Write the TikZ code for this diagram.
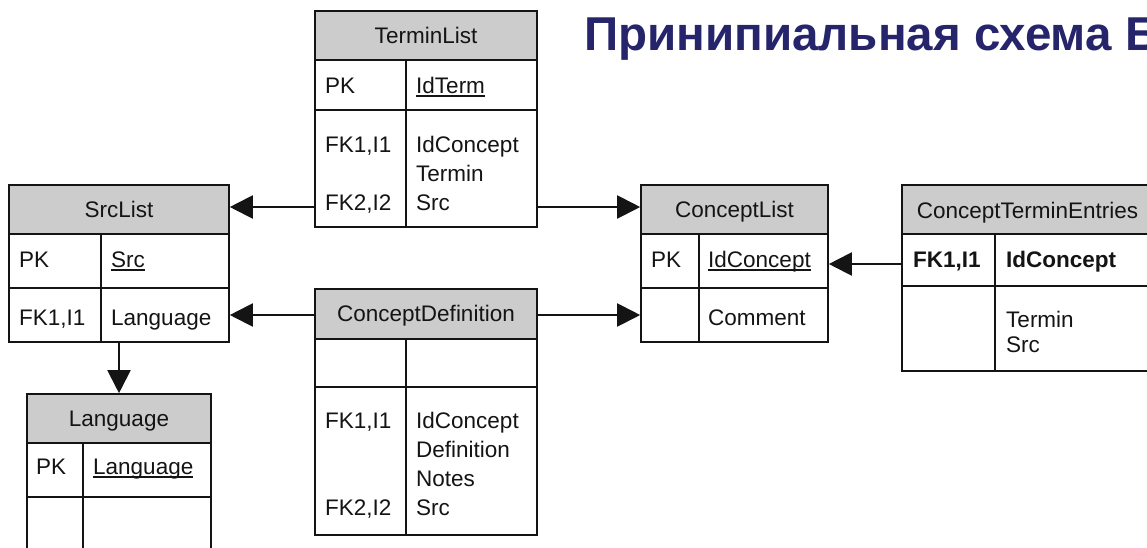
\documentclass[tikz,border=0pt]{standalone}
\usepackage{fontspec}
\setmainfont{Liberation Sans}
\usetikzlibrary{arrows.meta}
\definecolor{navy}{RGB}{38,36,107}
\definecolor{hdrgray}{RGB}{204,204,204}
\definecolor{ink}{RGB}{20,20,20}
\newcommand\erfont{\fontsize{22.5}{27}\selectfont}
\newcommand\erul[1]{\setbox0\hbox{#1}\rlap{\rule[-3.5pt]{\wd0}{1.5pt}}#1}
\tikzset{
  tbl/.style={draw=ink, line width=1.6pt, rectangle, inner sep=0pt},
  sepline/.style={draw=ink, line width=1.6pt},
  hdrfill/.style={fill=hdrgray},
  arr/.style={draw=ink, line width=2pt, -{Triangle[length=23pt,width=23pt]}},
  txt/.style={anchor=base west, inner sep=0pt, font=\erfont, text=ink},
  htxt/.style={anchor=base, inner sep=0pt, font=\erfont, text=ink},
  title/.style={anchor=base west, inner sep=0pt, text=navy,
    font=\fontsize{47.5}{56}\selectfont\bfseries},
}
\begin{document}
\begin{tikzpicture}[x=1pt,y=-1pt]
\useasboundingbox (0,0) rectangle (1147,547);
\fill[white] (0,0) rectangle (1147,547);

% ---------- title
\node[title] (ttl) at (584,50) {Принипиальная схема Б};

% ---------- TerminList
\fill[hdrfill] (315,11) rectangle (537,60);
\node[tbl, minimum width=222pt, minimum height=216pt] (tl) at (426,119) {};
\draw[sepline] (315,60) -- (537,60) (315,110) -- (537,110) (406,60) -- (406,227);
\node[htxt] (tlh) at (426,43) {TerminList};
\node[txt] (tla) at (325,93) {PK};
\node[txt] (tlb) at (416,93) {\erul{IdTerm}};
\node[txt] (tlc) at (325,152) {FK1,I1};
\node[txt] (tld) at (416,152) {IdConcept};
\node[txt] (tle) at (416,181) {Termin};
\node[txt] (tlf) at (325,210) {FK2,I2};
\node[txt] (tlg) at (416,210) {Src};

% ---------- SrcList
\fill[hdrfill] (9,185) rectangle (229,234);
\node[tbl, minimum width=220pt, minimum height=157pt] (sl) at (119,263.5) {};
\draw[sepline] (9,234) -- (229,234) (9,288) -- (229,288) (101,234) -- (101,342);
\node[htxt] (slh) at (119,217) {SrcList};
\node[txt] (sla) at (19,267) {PK};
\node[txt] (slb) at (111,267) {\erul{Src}};
\node[txt] (slc) at (19,325) {FK1,I1};
\node[txt] (sld) at (111,325) {Language};

% ---------- Language
\fill[hdrfill] (27,394) rectangle (211,443);
\node[tbl, minimum width=184pt, minimum height=166pt] (lang) at (119,477) {};
\draw[sepline] (27,443) -- (211,443) (27,497) -- (211,497) (83,443) -- (83,560);
\node[htxt] (lgh) at (119,426) {Language};
\node[txt] (lga) at (36,474) {PK};
\node[txt] (lgb) at (93,474) {\erul{Language}};

% ---------- ConceptDefinition
\fill[hdrfill] (315,289) rectangle (537,339);
\node[tbl, minimum width=222pt, minimum height=246pt] (cd) at (426,412) {};
\draw[sepline] (315,339) -- (537,339) (315,387) -- (537,387) (406,339) -- (406,535);
\node[htxt] (cdh) at (426,321) {ConceptDefinition};
\node[txt] (cda) at (325,428) {FK1,I1};
\node[txt] (cdb) at (416,428) {IdConcept};
\node[txt] (cdc) at (416,457) {Definition};
\node[txt] (cdd) at (416,486) {Notes};
\node[txt] (cde) at (325,515) {FK2,I2};
\node[txt] (cdf) at (416,515) {Src};

% ---------- ConceptList
\fill[hdrfill] (641,185) rectangle (828,234);
\node[tbl, minimum width=187pt, minimum height=157pt] (cl) at (734.5,263.5) {};
\draw[sepline] (641,234) -- (828,234) (641,288) -- (828,288) (699,234) -- (699,342);
\node[htxt] (clh) at (734.5,217) {ConceptList};
\node[txt] (cla) at (651,267) {PK};
\node[txt] (clb) at (708,267) {\erul{IdConcept}};
\node[txt] (clc) at (708,325) {Comment};

% ---------- ConceptTerminEntries
\fill[hdrfill] (902,185) rectangle (1153,234);
\node[tbl, minimum width=251pt, minimum height=186pt] (cte) at (1027.5,278) {};
\draw[sepline] (902,234) -- (1153,234) (902,286) -- (1153,286) (995,234) -- (995,371);
\node[htxt] (cteh) at (1027.5,218) {ConceptTerminEntries};
\node[txt, font=\erfont\bfseries] (ctea) at (913,267) {FK1,I1};
\node[txt, font=\erfont\bfseries] (cteb) at (1006,267) {IdConcept};
\node[txt] (ctec) at (1006,327) {Termin};
\node[txt] (cted) at (1006,352) {Src};

% ---------- connectors
\draw[arr] (tl.west |- 0,207) -- (sl.east |- 0,207);
\draw[arr] (tl.east |- 0,207) -- (cl.west |- 0,207);
\draw[arr] (cd.west |- 0,315) -- (sl.east |- 0,315);
\draw[arr] (cd.east |- 0,315) -- (cl.west |- 0,315);
\draw[arr] (cte.west |- 0,264) -- (cl.east |- 0,264);
\draw[arr] (sl.south) -- (lang.north);
\end{tikzpicture}
\end{document}
